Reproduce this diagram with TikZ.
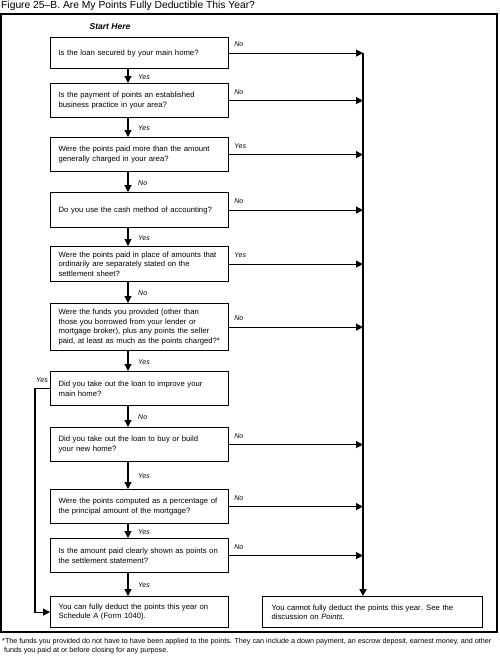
\documentclass[tikz,border=0pt]{standalone}
\usepackage{fontspec}
\setmainfont{Liberation Sans}
\usetikzlibrary{arrows.meta,calc}
\begin{document}
\begin{tikzpicture}[x=1pt,y=-1pt,
 qbox/.style={draw,line width=1.2pt,minimum width=178pt,text width=162pt,align=left,inner sep=0pt,font=\fontsize{7.7}{9.4}\selectfont,anchor=north west},
 lab/.style={font=\itshape\fontsize{7}{8}\selectfont,inner sep=0pt},
 conn/.style={line width=1.1pt,-{Triangle[length=7pt,width=7pt]}},
]
\useasboundingbox (0,0) rectangle (499,662);
\node[anchor=west,inner sep=0pt,font=\fontsize{10.3}{12}\selectfont] (title) at (1,6) {Figure 25–B. Are My Points Fully Deductible This Year?};
\draw[line width=1.6pt] (1,14) rectangle (497,632);
\node[font=\bfseries\itshape\fontsize{8.5}{10}\selectfont,inner sep=0pt] (start) at (110,27) {Start Here};

\coordinate (tr) at (363,0);
\coordinate (ax) at (128,0);
\coordinate (lx) at (35,0);

\node[qbox,minimum height=31pt] (b1) at (50,37) {Is the loan secured by your main home?};
\node[qbox,minimum height=34pt] (b2) at (50,83) {Is the payment of points an established\\business practice in your area?};
\node[qbox,minimum height=34pt] (b3) at (50,137) {Were the points paid more than the amount\\generally charged in your area?};
\node[qbox,minimum height=35pt] (b4) at (50,192) {Do you use the cash method of accounting?};
\node[qbox,minimum height=35pt] (b5) at (50,246) {Were the points paid in place of amounts that\\ordinarily are separately stated on the\\settlement sheet?};
\node[qbox,minimum height=47pt] (b6) at (50,303) {Were the funds you provided (other than\\those you borrowed from your lender or\\mortgage broker), plus any points the seller\\paid, at least as much as the points charged?*};
\node[qbox,minimum height=34pt] (b7) at (50,371) {Did you take out the loan to improve your\\main home?};
\node[qbox,minimum height=34pt] (b8) at (50,427) {Did you take out the loan to buy or build\\your new home?};
\node[qbox,minimum height=34pt] (b9) at (50,489) {Were the points computed as a percentage of\\the principal amount of the mortgage?};
\node[qbox,minimum height=34pt] (b10) at (50,538) {Is the amount paid clearly shown as points on\\the settlement statement?};
\node[qbox,minimum height=31pt] (b11) at (50,596) {You can fully deduct the points this year on\\Schedule A (Form 1040).};
\node[qbox,minimum width=220pt,text width=202pt,minimum height=31pt] (rb) at (262,596) {You cannot fully deduct the points this year. See the\\discussion on \textit{Points}.};

% trunk
\coordinate (trtop) at (b1.east -| tr);
\draw[line width=1.6pt,-{Triangle[length=7pt,width=7pt]}] (trtop) -- (tr |- rb.north);

% side exits
\foreach \b/\t in {b1/No,b2/No,b3/Yes,b4/No,b5/Yes,b6/No,b8/No,b9/No,b10/No}{
  \draw[conn] (\b.east) -- (\b.east -| tr);
  \node[lab,anchor=south west] at ($(\b.east)+(5,-6)$) {\t};
}

% down arrows
\foreach \a/\b/\t in {b1/b2/Yes,b2/b3/Yes,b3/b4/No,b4/b5/Yes,b5/b6/No,b6/b7/Yes,b7/b8/No,b8/b9/Yes,b9/b10/Yes,b10/b11/Yes}{
  \draw[conn] (\a.south -| ax) -- (\b.north -| ax);
  \node[lab,anchor=west] at ($($(\a.south -| ax)!0.5!(\b.north -| ax)$)+(10,1)$) {\t};
}

% left loop
\draw[conn] (b7.west) -- (b7.west -| lx) -- (lx |- b11.west) -- (b11.west);
\node[lab,anchor=south east] at ($(b7.west)+(-2,-6)$) {Yes};

% footnote
\node[anchor=north west,inner sep=0pt,align=left,font=\fontsize{7.2}{9}\selectfont] (fn) at (2,638) {*The funds you provided do not have to have been applied to the points. They can include a down payment, an escrow deposit, earnest money, and other\\ \ funds you paid at or before closing for any purpose.};
\end{tikzpicture}
\end{document}
